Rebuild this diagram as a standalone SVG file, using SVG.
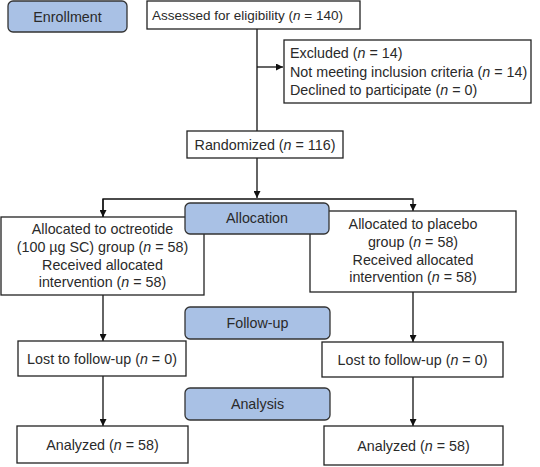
<svg xmlns="http://www.w3.org/2000/svg" width="540" height="467" viewBox="0 0 540 467">
<defs>
<marker id="ah" viewBox="0 0 10 10" refX="10" refY="5" markerWidth="7" markerHeight="7" markerUnits="userSpaceOnUse" orient="auto">
<path d="M0,0 L10,5 L0,10 z" fill="#111"/>
</marker>
<style>
.box{fill:#fff;stroke:#222;stroke-width:1.3}
.stage{fill:#a9c1e5;stroke:#333;stroke-width:1.3}
text{font-family:"Liberation Sans",Arial,sans-serif;font-size:14.3px;fill:#2a2a2a}
.c{text-anchor:middle}
.ln{fill:none;stroke:#111;stroke-width:1.3}
</style>
</defs>
<rect width="540" height="467" fill="#fff"/>
<g id="connectors">
<line class="ln" x1="257" y1="29" x2="257" y2="131"/>
<line class="ln" x1="257" y1="67" x2="283" y2="67" marker-end="url(#ah)"/>
<line class="ln" x1="257" y1="158" x2="257" y2="198" marker-end="url(#ah)"/>
<polyline class="ln" points="103,217 103,199 413,199 413,211" marker-end="url(#ah)"/>
<line class="ln" x1="103" y1="199" x2="103" y2="217" marker-end="url(#ah)"/>
<line class="ln" x1="103" y1="295" x2="103" y2="341" marker-end="url(#ah)"/>
<line class="ln" x1="413" y1="292" x2="413" y2="342" marker-end="url(#ah)"/>
<line class="ln" x1="103" y1="376" x2="103" y2="426" marker-end="url(#ah)"/>
<line class="ln" x1="413" y1="377" x2="413" y2="426" marker-end="url(#ah)"/>
</g>
<g id="enrollment"><rect class="stage" x="8" y="1" width="119" height="31" rx="5"/><text class="c" x="67.5" y="21.5">Enrollment</text></g>
<g id="assessed"><rect class="box" x="147" y="1" width="213" height="28"/><text x="152" y="20" style="font-size:13.5px">Assessed for eligibility (<tspan font-style="italic">n</tspan> = 140)</text></g>
<g id="excluded"><rect class="box" x="284" y="40" width="247" height="63"/>
<text x="290" y="58">Excluded (<tspan font-style="italic">n</tspan> = 14)</text>
<text x="290" y="77">Not meeting inclusion criteria (<tspan font-style="italic">n</tspan> = 14)</text>
<text x="290" y="95">Declined to participate (<tspan font-style="italic">n</tspan> = 0)</text></g>
<g id="randomized"><rect class="box" x="187" y="131" width="156" height="27"/><text class="c" x="265" y="149.5">Randomized (<tspan font-style="italic">n</tspan> = 116)</text></g>
<g id="octreotide"><rect class="box" x="1" y="217" width="203" height="78"/>
<text class="c" x="102.5" y="234">Allocated to octreotide</text>
<text class="c" x="102.5" y="252">(100 µg SC) group (<tspan font-style="italic">n</tspan> = 58)</text>
<text class="c" x="102.5" y="270">Received allocated</text>
<text class="c" x="102.5" y="287">intervention (<tspan font-style="italic">n</tspan> = 58)</text></g>
<g id="placebo"><rect class="box" x="310" y="211" width="206" height="81"/>
<text class="c" x="413" y="229">Allocated to placebo</text>
<text class="c" x="413" y="247">group (<tspan font-style="italic">n</tspan> = 58)</text>
<text class="c" x="413" y="265">Received allocated</text>
<text class="c" x="413" y="282">intervention (<tspan font-style="italic">n</tspan> = 58)</text></g>
<g id="allocation"><rect class="stage" x="185" y="203" width="144" height="31" rx="5"/><text class="c" x="257" y="223">Allocation</text></g>
<g id="followup"><rect class="stage" x="185" y="307" width="145" height="32" rx="5"/><text class="c" x="257.5" y="328">Follow-up</text></g>
<g id="lost-left"><rect class="box" x="18" y="341" width="168" height="35"/><text class="c" x="102" y="364">Lost to follow-up (<tspan font-style="italic">n</tspan> = 0)</text></g>
<g id="lost-right"><rect class="box" x="322" y="342" width="181" height="35"/><text class="c" x="412.5" y="365">Lost to follow-up (<tspan font-style="italic">n</tspan> = 0)</text></g>
<g id="analysis"><rect class="stage" x="185" y="388" width="145" height="32" rx="5"/><text class="c" x="257.5" y="409">Analysis</text></g>
<g id="analyzed-left"><rect class="box" x="17" y="426" width="171" height="37"/><text class="c" x="102.5" y="450">Analyzed (<tspan font-style="italic">n</tspan> = 58)</text></g>
<g id="analyzed-right"><rect class="box" x="324" y="426" width="179" height="39"/><text class="c" x="413.5" y="451">Analyzed (<tspan font-style="italic">n</tspan> = 58)</text></g>
</svg>
